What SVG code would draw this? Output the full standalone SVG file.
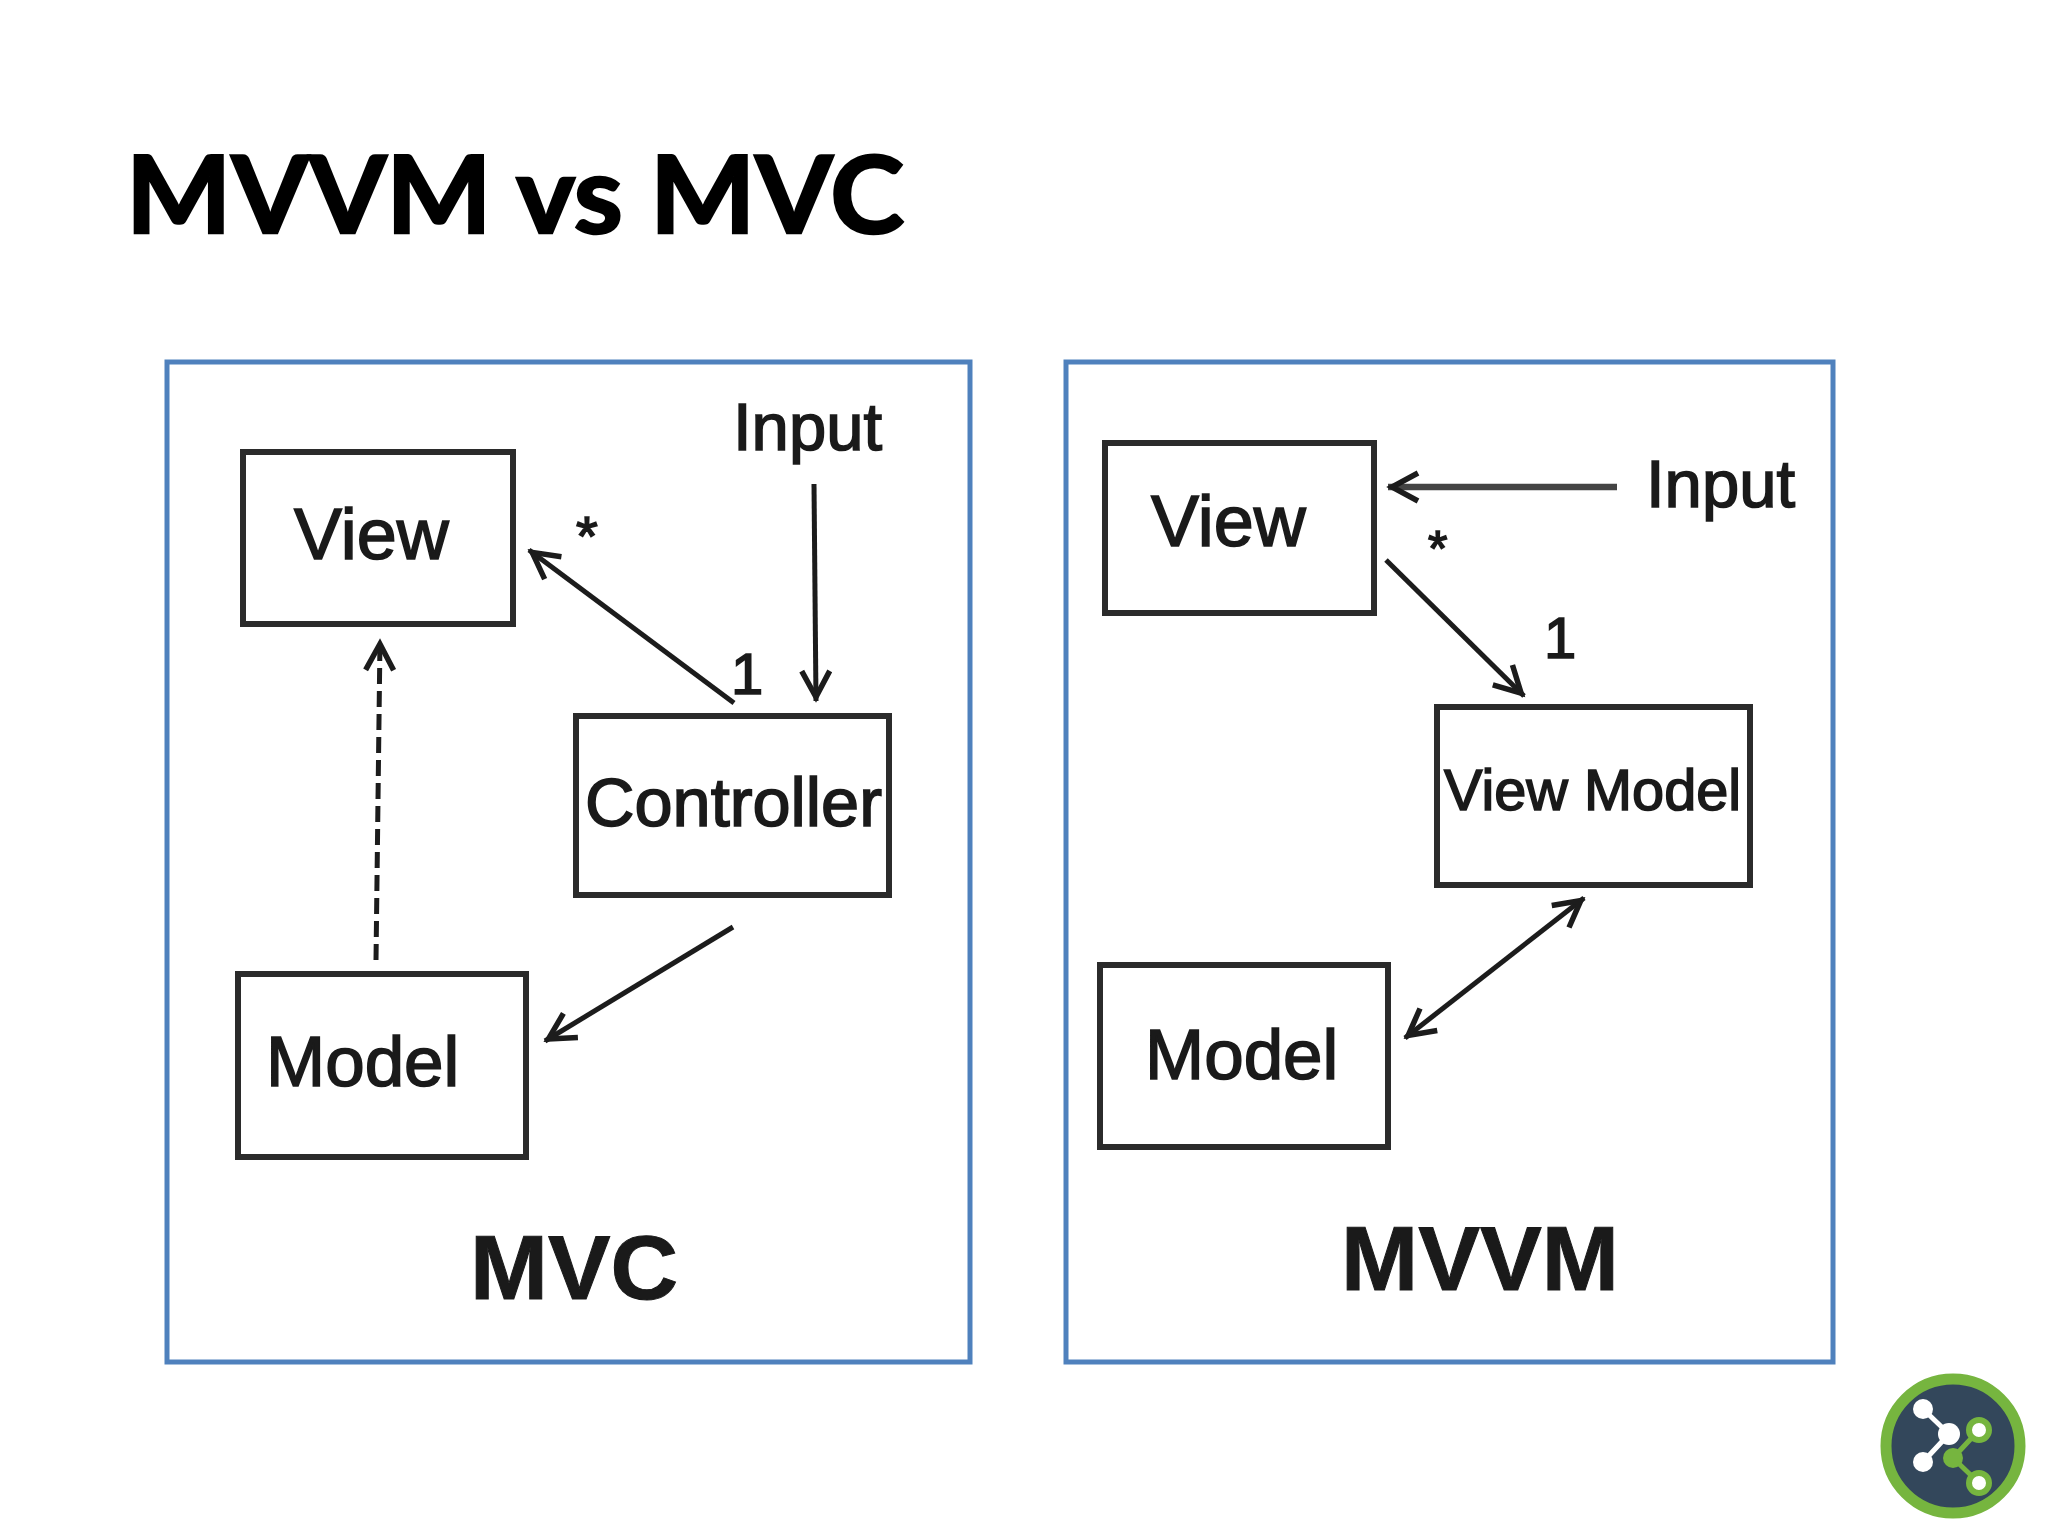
<svg xmlns="http://www.w3.org/2000/svg" width="2048" height="1536" viewBox="0 0 2048 1536">
<style>
.panel{fill:#fff;stroke:#4f81bd;stroke-width:5}
.box{fill:#fff;stroke:#2b2b2b;stroke-width:6}
.lbl{font-family:"Liberation Sans",Arial,sans-serif;fill:#1a1a1a;stroke:#1a1a1a;stroke-width:1.6}
.big{font-family:"Liberation Sans",Arial,sans-serif;font-weight:700;fill:#1a1a1a;stroke:#1a1a1a;stroke-width:1}
.con{fill:none;stroke:#1c1c1c;stroke-width:5}
</style>
<defs>
<marker id="arrow" markerUnits="userSpaceOnUse" markerWidth="40" markerHeight="40" viewBox="-30 -20 40 40" refX="4" refY="0" orient="auto-start-reverse">
<path d="M-26,-14 L0,0 L-26,14" fill="none" stroke="#1c1c1c" stroke-width="5.5"/>
</marker>
</defs>
<rect width="2048" height="1536" fill="#fff"/>
<text id="title" x="126" y="233" font-family="Lato,'Open Sans',sans-serif" font-weight="700" font-size="108" fill="#000" stroke="#000" stroke-width="2.5" textLength="778" lengthAdjust="spacingAndGlyphs">MVVM vs MVC</text>
<rect id="panel-mvc" class="panel" x="167" y="362" width="803" height="1000"/>
<rect id="panel-mvvm" class="panel" x="1066" y="362" width="767" height="1000"/>
<g id="connectors">
<path class="con" d="M814,484 L816,701" marker-end="url(#arrow)"/>
<path class="con" d="M734,703 L529,550" marker-end="url(#arrow)"/>
<path class="con" d="M376,960 L380,640" stroke-dasharray="16 7" marker-end="url(#arrow)"/>
<path class="con" d="M733,927 L545,1041" marker-end="url(#arrow)"/>
<path class="con" d="M1617,487 L1388,487" style="stroke:#444;stroke-width:6.5" marker-end="url(#arrow)"/>
<path class="con" d="M1386,560 L1524,696" marker-end="url(#arrow)"/>
<path class="con" d="M1405,1038 L1584,898" marker-start="url(#arrow)" marker-end="url(#arrow)"/>
</g>
<g id="mvc-view"><rect class="box" x="243" y="452" width="270" height="172"/><text class="lbl" x="294" y="559" font-size="72">View</text></g>
<g id="mvc-controller"><rect class="box" x="576" y="716" width="313" height="179"/><text class="lbl" x="585" y="826" font-size="68.5">Controller</text></g>
<g id="mvc-model"><rect class="box" x="238" y="974" width="288" height="183"/><text class="lbl" x="266" y="1086" font-size="71">Model</text></g>
<g id="mvc-labels">
<text class="lbl" x="733" y="450" font-size="67">Input</text>
<text class="lbl" x="731" y="694" font-size="58">1</text>
<text class="lbl" x="576" y="555" font-size="56">*</text>
<text class="big" x="470" y="1299" font-size="90" textLength="208" lengthAdjust="spacingAndGlyphs">MVC</text>
</g>
<g id="mvvm-view"><rect class="box" x="1105" y="443" width="269" height="170"/><text class="lbl" x="1151" y="546" font-size="72">View</text></g>
<g id="mvvm-viewmodel"><rect class="box" x="1437" y="707" width="313" height="178"/><text class="lbl" x="1444" y="810" font-size="57.7">View Model</text></g>
<g id="mvvm-model"><rect class="box" x="1100" y="965" width="288" height="182"/><text class="lbl" x="1145" y="1079" font-size="71">Model</text></g>
<g id="mvvm-labels">
<text class="lbl" x="1646" y="507" font-size="67">Input</text>
<text class="lbl" x="1544" y="658" font-size="58">1</text>
<text class="lbl" x="1428" y="566" font-size="50">*</text>
<text class="big" x="1341" y="1290" font-size="90" textLength="278" lengthAdjust="spacingAndGlyphs">MVVM</text>
</g>
<g id="logo">
<circle cx="1953" cy="1446" r="67" fill="#33475b" stroke="#76b53f" stroke-width="11"/>
<path d="M1923,1409 L1949,1434 L1923,1462" fill="none" stroke="#fff" stroke-width="5"/>
<circle cx="1923" cy="1409" r="10" fill="#fff"/><circle cx="1949" cy="1434" r="11" fill="#fff"/><circle cx="1923" cy="1462" r="10" fill="#fff"/>
<path d="M1979,1430 L1953,1458 L1979,1483" fill="none" stroke="#76b53f" stroke-width="5"/>
<circle cx="1953" cy="1458" r="10" fill="#76b53f"/>
<circle cx="1979" cy="1430" r="10" fill="#fff" stroke="#76b53f" stroke-width="6"/>
<circle cx="1979" cy="1483" r="10" fill="#fff" stroke="#76b53f" stroke-width="6"/>
</g>
</svg>
